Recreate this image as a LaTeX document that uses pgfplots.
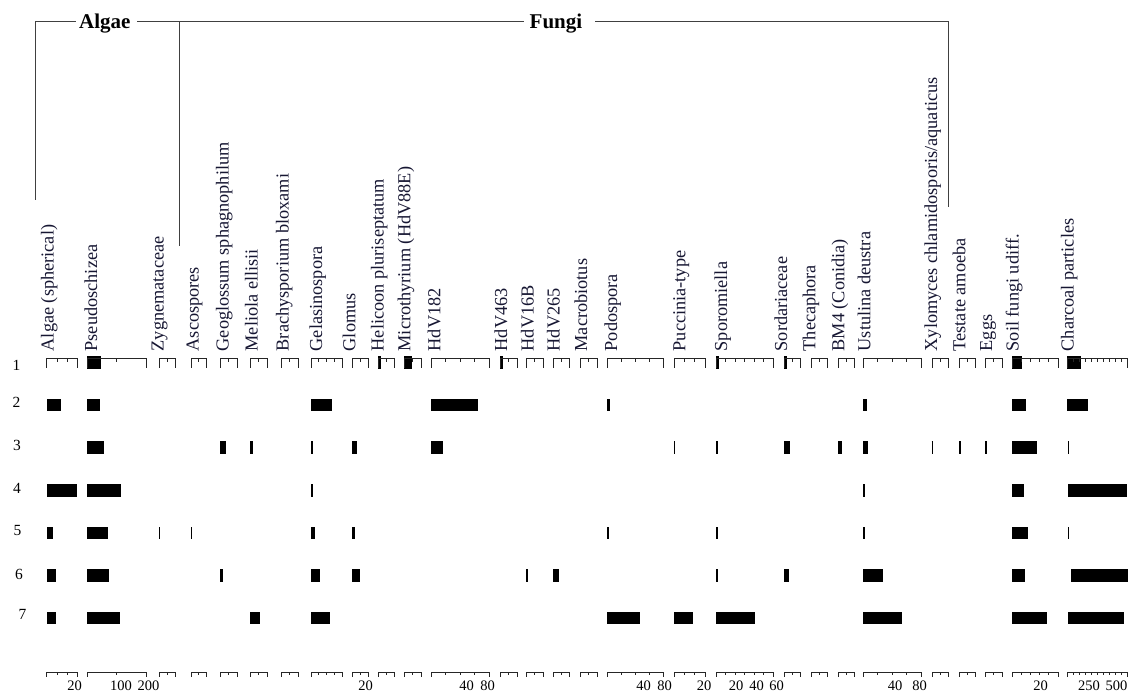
\documentclass[border=0pt]{standalone}
\usepackage{pgfplots}
\usepackage{pgfplotstable}
\pgfplotsset{compat=1.18}
\usepackage{fontspec}
\setmainfont{Liberation Serif}
\definecolor{labc}{RGB}{22,22,50}
\newcommand\lab{\fontsize{18.3}{20}\selectfont}
\newcommand\grp{\fontsize{21}{23}\selectfont\bfseries}
\newcommand\rownum{\fontsize{15.5}{17}\selectfont}
\newcommand\tick{\fontsize{14.5}{16}\selectfont}

% bars: row, start and end of each bar (pixel positions along the diagram)
\pgfplotstableread{
row x0 x1
1 87 101
1 378 380.5
1 404 412
1 500 502.5
1 716 719
1 784 787
1 1012 1022
1 1067 1081
2 47 61
2 87 100
2 311 332
2 431 478
2 607 609.5
2 863 866.5
2 1012 1026
2 1067 1088
3 87 104
3 220 225.5
3 250 252.5
3 311 312.5
3 352 357
3 431 443
3 674 675.3
3 716 718
3 784 790
3 838 841.5
3 863 868
3 931.5 933.3
3 959 961
3 985 987
3 1012 1037
3 1068 1069.3
4 47 76.5
4 87 121
4 311 312.5
4 863 865
4 1012 1024
4 1068 1127
5 47 53
5 87 108
5 159 160.3
5 191 192.3
5 311 315
5 352 355
5 607 608.5
5 716 718
5 863 865
5 1012 1028
5 1068 1069.3
6 47 56
6 87 109
6 220 223
6 311 320
6 352 360
6 526 527.7
6 553 558.5
6 716 718
6 784 789
6 863 883
6 1012 1025
6 1071 1128
7 47 56
7 87 120
7 250 260
7 311 330
7 607 640
7 674 693
7 716 755
7 863 902
7 1012 1047
7 1068 1124
}\bars

\begin{document}
\begin{tikzpicture}
\begin{axis}[at={(0pt,0pt)}, anchor=south west, scale only axis,
  width=1133pt, height=691pt, xmin=0, xmax=1133, ymin=0, ymax=691,
  y dir=reverse, axis lines=none, clip=false]
\addplot[draw=none, mark=none, forget plot,
  error bars/.cd, x dir=plus, x explicit, error mark=none,
  error bar style={draw=black, line width=12.5pt, line cap=butt}]
  table[x=x0, y expr={362.5+42.6*(\thisrow{row}-1)},
        x error expr={\thisrow{x1}-\thisrow{x0}}] {\bars};
\end{axis}
\begin{scope}[x=1pt, y=-1pt, shift={(0pt,691pt)}]
  % group brackets
  \draw[black!75, line width=1pt] (35.5,200) -- (35.5,22) -- (76,22);
  \draw[black!75, line width=1pt] (137,22) -- (524,22);
  \draw[black!75, line width=1pt] (179,246) -- (179,22);
  \draw[black!75, line width=1pt] (595,22) -- (948,22) -- (948,207);
  \node[font=\grp, anchor=base west, inner sep=0] at (79,29) {Algae};
  \node[font=\grp, anchor=base west, inner sep=0] at (529.5,29) {Fungi};
  % column scales
  \foreach \a/\b in {46.5/77, 87/146, 159/175, 191/206, 220/237, 250/267, 281/298,
      311/342, 352/368, 378/394, 404/421, 431/489, 500/517, 526/543, 553/569,
      580/597, 607/663, 674/705, 716/773, 784/800, 811/827, 838/854, 863/921,
      932/948, 959/975, 985/1002, 1012/1058, 1067/1127} {
    \draw[black!85, line width=1pt] (\a,368) -- (\a,359) -- (\b,359) -- (\b,368);
    \draw[black!85, line width=1pt] (\a,677) -- (\a,672.5) -- (\b,672.5) -- (\b,677);
  }
  \foreach \a/\b in {159/175, 191/206, 220/237, 250/267, 281/298, 352/368, 378/394,
      404/421, 500/517, 526/543, 553/569, 580/597, 784/800, 811/827, 838/854,
      932/948, 959/975, 985/1002} {
    \pgfmathsetmacro\m{(\a+\b)/2}
    \draw[black!85, line width=1pt] (\m,359) -- (\m,362);
    \draw[black!85, line width=1pt] (\m,672.5) -- (\m,675);
  }
  \foreach \m in {57, 67, 116.5, 318.75, 326.5, 334.25, 445.5, 460, 474.5, 621, 635, 649,
      684.3, 694.7, 725.5, 735, 744.5, 754, 763.5, 877.5, 892, 906.5,
      1021.2, 1030.4, 1039.6, 1048.8, 1073, 1079, 1085, 1091, 1097, 1103, 1109, 1115, 1121} {
    \draw[black!85, line width=1pt] (\m,359) -- (\m,362);
    \draw[black!85, line width=1pt] (\m,672.5) -- (\m,675);
  }
  % column labels
  \foreach \x/\t in {46.7/Algae (spherical), 90/Pseudoschizea, 156.7/Zygnemataceae,
      191.7/Ascospores, 221.7/Geoglossum sphagnophilum, 250.7/Meliola ellisii,
      281.7/Brachysporium bloxami, 315/Gelasinospora, 348.3/Glomus,
      376.7/Helicoon pluriseptatum, 403.3/Microthyrium (HdV88E), 433.3/HdV182,
      500/HdV463, 526.7/HdV16B, 552.7/HdV265, 580/Macrobiotus, 610/Podospora,
      678.3/Puccinia-type, 720/Sporomiella, 780/Sordariaceae, 808.3/Thecaphora,
      837.3/BM4 (Conidia), 863.3/Ustulina deustra,
      930/{Xylomyces chlamidosporis/aquaticus}, 958.3/Testate amoeba, 985/Eggs,
      1011.7/Soil fungi udiff., 1066.7/Charcoal particles} {
    \node[rotate=90, anchor=north west, inner sep=0pt, text height=0.68em,
      font=\lab, text=labc] at (\x,351.5) {\t};
  }
  % row numbers
  \foreach \x/\y/\n in {16.5/365/1, 16.5/402/2, 17/445/3, 17/488/4, 17.5/531/5, 19/574/6, 22.5/614/7} {
    \node[font=\rownum, inner sep=0pt] at (\x,\y) {\n};
  }
  % scale numbers
  \foreach \x/\n in {74.5/20, 121/100, 148.5/200, 365.5/20, 466.5/40, 487.5/80,
      643.5/40, 664.5/80, 704/20, 736/20, 756.5/40, 776.5/60, 895/40, 919.5/80,
      1040.5/20, 1089/250, 1116.5/500} {
    \node[font=\tick, anchor=base, inner sep=0pt] at (\x,690) {\n};
  }
\end{scope}
\pgfresetboundingbox
\path[use as bounding box] (0pt,0pt) rectangle (1133pt,691pt);
\end{tikzpicture}
\end{document}
